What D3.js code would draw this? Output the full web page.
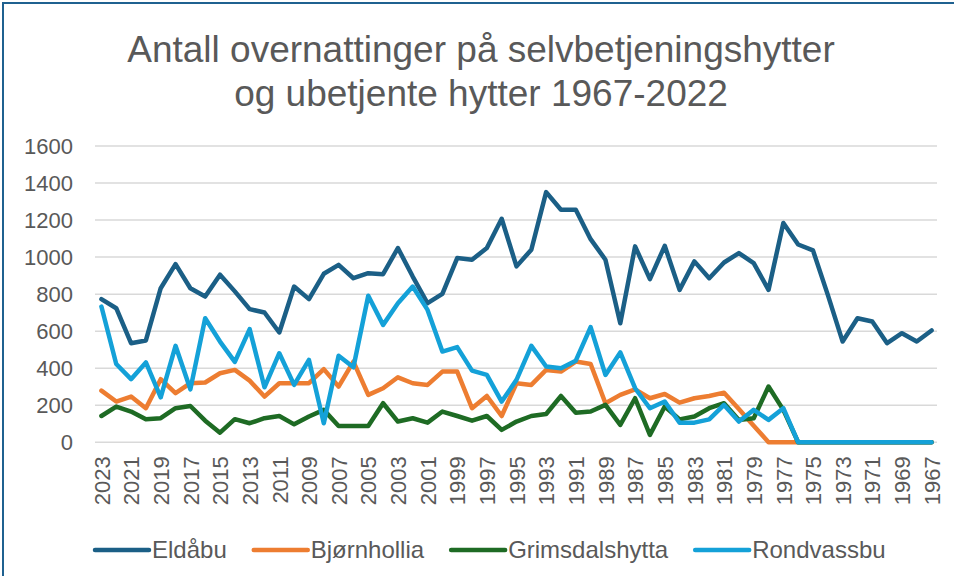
<!DOCTYPE html>
<html>
<head>
<meta charset="utf-8">
<script src="https://cdn.jsdelivr.net/npm/d3@7"></script>
<style>
  body { margin: 0; background: #fff; }
  text { font-family: "Liberation Sans", Arial, sans-serif; fill: #595959; }
</style>
</head>
<body>
<script>
// overnight stays per cabin, 2023 first, down to 1967
var years = ["2023","2022","2021","2020","2019","2018","2017","2016","2015","2014",
  "2013","2012","2011","2010","2009","2008","2007","2006","2005","2004",
  "2003","2002","2001","2000","1999","1998","1997","1996","1995","1994",
  "1993","1992","1991","1990","1989","1988","1987","1986","1985","1984",
  "1983","1982","1981","1980","1979","1978","1977","1976","1975","1974",
  "1973","1972","1971","1970","1969","1968","1967"];

var eldabu = [773, 724, 535, 550, 832, 962, 832, 787, 905, 815,
  719, 701, 593, 841, 773, 910, 958, 886, 913, 908,
  1049, 895, 751, 802, 995, 986, 1049, 1207, 950, 1040,
  1351, 1256, 1256, 1097, 986, 643, 1058, 881, 1061, 823,
  977, 886, 971, 1022, 968, 823, 1184, 1068, 1036, 796,
  544, 670, 652, 535, 589, 544, 604];

var bjornhollia = [279, 220, 247, 184, 341, 265, 319, 323, 373, 391,
  333, 247, 319, 319, 319, 395, 301, 436, 256, 292,
  351, 319, 310, 382, 382, 184, 250, 142, 319, 310,
  391, 382, 436, 423, 211, 256, 286, 238, 261, 214,
  238, 250, 268, 180, 90, 0, 0, 0, 0, 0,
  0, 0, 0, 0, 0, 0, 0];

var grimsdalshytta = [142, 193, 166, 124, 130, 184, 196, 117, 52, 125,
  103, 130, 142, 97, 139, 175, 88, 88, 88, 211,
  112, 130, 106, 166, 142, 117, 142, 67, 112, 142,
  153, 250, 160, 166, 202, 94, 238, 40, 193, 124,
  139, 184, 211, 121, 130, 301, 175, 0, 0, 0,
  0, 0, 0, 0, 0, 0, 0];

var rondvassbu = [733, 423, 341, 431, 243, 521, 286, 670, 544, 434,
  611, 297, 481, 310, 445, 103, 467, 405, 791, 634,
  751, 841, 715, 490, 514, 387, 364, 220, 337, 521,
  409, 400, 441, 622, 364, 485, 292, 184, 220, 106,
  106, 124, 202, 112, 175, 121, 184, 0, 0, 0,
  0, 0, 0, 0, 0, 0, 0];

var seriesNames = ["Eldåbu", "Bjørnhollia", "Grimsdalshytta", "Rondvassbu"];
var seriesColors = ["#1b5f86", "#ed7d31", "#1e6b24", "#14a1d8"];
var yTicks = [0, 200, 400, 600, 800, 1000, 1200, 1400, 1600];

var width = 954, height = 576;
var series = [eldabu, bjornhollia, grimsdalshytta, rondvassbu];

var svg = d3.select("body").append("svg")
    .attr("width", width)
    .attr("height", height);

// chart frame (only left and top show in the crop)
svg.append("rect")
    .attr("x", 3).attr("y", 3)
    .attr("width", 970).attr("height", 600)
    .attr("fill", "none")
    .attr("stroke", "#1f6190")
    .attr("stroke-width", 2);

// title
var title = svg.append("text")
    .attr("text-anchor", "middle")
    .style("font-size", "37px");
title.append("tspan").attr("x", 481).attr("y", 62)
    .text("Antall overnattinger på selvbetjeningshytter");
title.append("tspan").attr("x", 481).attr("y", 106)
    .text("og ubetjente hytter 1967-2022");

var x = d3.scalePoint()
    .domain(years)
    .range([94, 939])
    .padding(0.5);

var y = d3.scaleLinear()
    .domain([0, 1600])
    .range([442.3, 146]);

// gridlines
svg.append("g")
    .selectAll("line")
    .data(yTicks)
  .enter().append("line")
    .attr("x1", 95).attr("x2", 937)
    .attr("y1", function(d) { return y(d); })
    .attr("y2", function(d) { return y(d); })
    .attr("stroke", "#d9d9d9")
    .attr("stroke-width", 1.5);

// y axis labels
var yAxis = d3.axisLeft(y).tickValues(yTicks).tickSize(0).tickPadding(0)
    .tickFormat(d3.format("d"));
var gy = svg.append("g")
    .attr("transform", "translate(73,0)")
    .call(yAxis);
gy.select(".domain").remove();
gy.selectAll("text")
    .style("font-size", "22px")
    .style("font-family", "'Liberation Sans', Arial, sans-serif")
    .attr("fill", "#595959");

// x axis labels, every other year, rotated
var xAxis = d3.axisBottom(x)
    .tickValues(years.filter(function(d, i) { return i % 2 === 0; }))
    .tickSize(0);
var gx = svg.append("g")
    .attr("transform", "translate(0,442.3)")
    .call(xAxis);
gx.select(".domain").remove();
gx.selectAll("text")
    .style("font-size", "22px")
    .style("font-family", "'Liberation Sans', Arial, sans-serif")
    .attr("fill", "#595959")
    .attr("transform", "rotate(-90)")
    .attr("text-anchor", "end")
    .attr("x", -14)
    .attr("y", 0)
    .attr("dy", "0.35em");

// lines
var line = d3.line()
    .x(function(d, i) { return x(years[i]); })
    .y(function(d) { return y(d); });

series.forEach(function(s, k) {
  svg.append("path")
      .datum(s)
      .attr("d", line)
      .attr("fill", "none")
      .attr("stroke", seriesColors[k])
      .attr("stroke-width", 4.5)
      .attr("stroke-linejoin", "round")
      .attr("stroke-linecap", "round");
});

// legend
var lx = 95, ly = 550;
seriesNames.forEach(function(name, k) {
  svg.append("line")
      .attr("x1", lx).attr("x2", lx + 54)
      .attr("y1", ly).attr("y2", ly)
      .attr("stroke", seriesColors[k])
      .attr("stroke-width", 4.5)
      .attr("stroke-linecap", "round");
  var t = svg.append("text")
      .attr("x", lx + 57)
      .attr("y", ly)
      .attr("dy", "0.35em")
      .style("font-size", "24px")
      .text(name);
  lx = lx + 57 + t.node().getComputedTextLength() + 27;
});
</script>
</body>
</html>
